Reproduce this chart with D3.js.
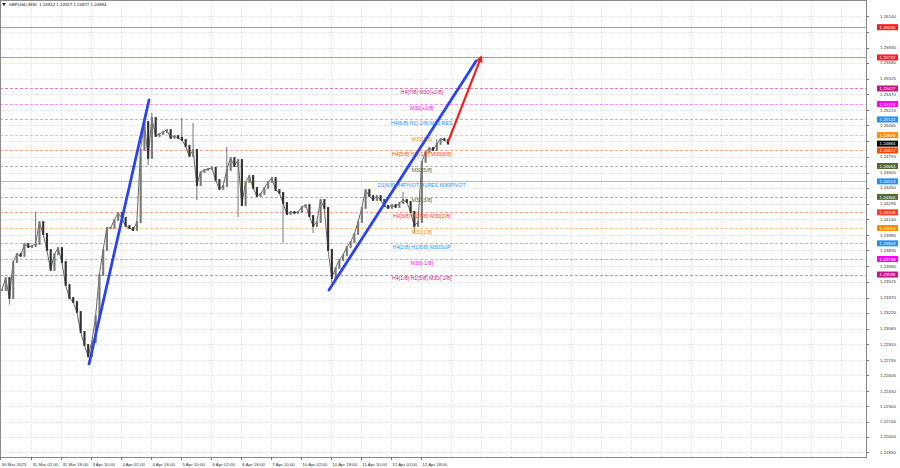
<!DOCTYPE html>
<html><head><meta charset="utf-8">
<script src="https://cdn.jsdelivr.net/npm/d3@7/dist/d3.min.js"></script>
<style>
body{margin:0;background:#fff}
svg{display:block}
text{font-family:"Liberation Sans",Arial,sans-serif}
</style>
</head><body>
<svg id="c" width="900" height="468"></svg>
<script>
// ---------------- DATA ----------------
const chartTitle = "GBPUSD,M30  1.24912 1.24927 1.24877 1.24884";

// 2-hour closes (each step = 4 M30 bars)
const closes = [
1.23444,1.23562,1.23365,1.23720,1.23798,1.23779,1.23897,1.23867,1.23877,1.23897,
1.24113,1.23995,1.23838,1.23641,1.23798,1.23857,1.23720,1.23493,1.23365,1.23326,
1.23228,1.23031,1.22903,1.22795,1.22932,1.23188,1.23592,1.23838,1.24054,1.24054,
1.24133,1.24202,1.24153,1.24074,1.24054,1.24034,1.24113,1.24822,1.25097,1.24743,
1.25137,1.24959,1.24979,1.24999,1.25018,1.24940,1.24959,1.24940,1.24920,1.24861,
1.24763,1.24822,1.24477,1.24605,1.24625,1.24635,1.24645,1.24526,1.24438,1.24467,
1.24625,1.24743,1.24664,1.24723,1.24280,1.24507,1.24566,1.24448,1.24369,1.24389,
1.24448,1.24507,1.24546,1.24428,1.24399,1.24300,1.24192,1.24212,1.24202,1.24212,
1.24261,1.24280,1.24172,1.24074,1.24113,1.24330,1.24251,1.23838,1.23562,1.23661,
1.23739,1.23788,1.23867,1.23916,1.23995,1.24113,1.24251,1.24428,1.24369,1.24330,
1.24369,1.24330,1.24271,1.24251,1.24280,1.24261,1.24300,1.24330,1.24310,1.24212,
1.24074,1.24113,1.24704,1.24802,1.24841,1.24822,1.24881,1.24930,1.24920,1.24884
];
const wickHighs = {9:1.24212, 40:1.25186, 48:1.25137, 51:1.25088, 60:1.24851, 107:1.24408, 116:1.24930};
const wickLows  = {2:1.23300, 23:1.22775, 39:1.24674, 52:1.24330, 63:1.24163, 75:1.23907, 83:1.24005, 88:1.23513, 110:1.24005};

const timeLabels = ["30 Mar 2023","31 Mar 02:00","31 Mar 18:00","3 Apr 10:00","4 Apr 02:00","4 Apr 18:00",
  "5 Apr 10:00","6 Apr 02:00","6 Apr 18:00","7 Apr 10:00","10 Apr 02:00","10 Apr 18:00","11 Apr 10:00",
  "12 Apr 02:00","12 Apr 18:00"];
const timeBars = [0,33,65,97,129,161,193,225,257,289,321,353,385,417,449];

const priceTicks = [1.26140,1.25985,1.25830,1.25680,1.25525,1.25370,1.25215,1.25065,1.24910,1.24755,
  1.24600,1.24450,1.24295,1.24140,1.23985,1.23835,1.23680,1.23525,1.23370,1.23220,1.23065,1.22910,
  1.22755,1.22605,1.22450,1.22300,1.22150,1.22000,1.21850];

const levelPrices = [1.26030,1.25732,1.25427,1.25274,1.25122,1.24968,1.24817,1.24664,1.24513,1.24360,
  1.24208,1.24054,1.23903,1.23749,1.23596];
const levelTexts = ["","","H4[7/8] M30[+2/8]","M30[+1/8]","H4[6/8] H1[-2/8] M30 RES","M30[7/8]",
  "H4[5/8] H1[-1/8] M30[6/8]","M30[5/8]","D1[6/8] H4PIVOT H1RES M30PIVOT","M30[3/8]",
  "H4[3/8] H1[7/8] M30[2/8]","M30[1/8]","H4[2/8] H1[6/8] M30SUP","M30[-1/8]","H4[1/8] H1[5/8] M30[-2/8]"];
const currentPrice = 1.24884;

// drawn objects (bar index, price)
const trendLines = [
  {b0:95, p0:1.22716, b1:159, p1:1.25314},
  {b0:351, p0:1.23444, b1:508, p1:1.25697}
];
const forecastArrow = {b0:478, p0:1.24900, b1:513, p1:1.25727};

// ---------------- STYLE ----------------
const levelColors = ["#ff1a1a","#ff1a1a","#c71585","#ff00ff","#1e90ff","#ff8c00","#ff4500","#556b2f",
  "#1e90ff","#556b2f","#ff3a1a","#ff8c00","#1e90ff","#ff00ff","#c71585"];
const levelLineColors = ["#f27a7a","#f27a7a","#e07fbe","#ff8cff","#8ec6ff","#ffc27f","#ffa07f","#a9b596",
  "#8ec6ff","#a9b596","#ff9c8c","#ffc27f","#8ec6ff","#ff8cff","#e07fbe"];
const levelDash = ["","","3,2","3,2","3,2","3,2","3,2","3,2","","3,2","3,2","3,2","3,2","3,2","3,2"];

const plotR = 866, plotB = 457;
const x = d3.scaleLinear().domain([0, 924]).range([0, plotR]);
const y = d3.scaleLinear().domain([1.2185, 1.2614]).range([452, 16]);
const svg = d3.select("#c");
const fmt = d3.format(".5f");

svg.append("rect").attr("width",900).attr("height",468).attr("fill","#fff");

// grid
const grid = svg.append("g");
grid.selectAll("line.h").data(priceTicks).join("line").attr("class","h")
  .attr("x1",0).attr("x2",plotR)
  .attr("y1",d=>Math.round(y(d))+0.5).attr("y2",d=>Math.round(y(d))+0.5)
  .attr("stroke","#e2e2e2").attr("stroke-dasharray","1,1");
const gridBars = timeBars.slice(1).concat(d3.range(timeBars[timeBars.length-1]+32, 924, 32));
grid.selectAll("line.v").data(gridBars).join("line").attr("class","v")
  .attr("x1",d=>Math.round(x(d))+0.5).attr("x2",d=>Math.round(x(d))+0.5)
  .attr("y1",0).attr("y2",plotB)
  .attr("stroke","#e2e2e2").attr("stroke-dasharray","1,1");

// level lines
const lv = svg.append("g");
lv.selectAll("line").data(levelPrices).join("line")
  .attr("x1",0).attr("x2",plotR)
  .attr("y1",d=>Math.round(y(d))+0.5).attr("y2",d=>Math.round(y(d))+0.5)
  .attr("stroke",(d,i)=>levelLineColors[i])
  .attr("stroke-dasharray",(d,i)=>levelDash[i]);

// candles
const candles = closes.map((c,i)=>({i, o: i ? closes[i-1] : c, c, h: wickHighs[i], l: wickLows[i]}));
const cg = svg.append("g");
cg.append("path").datum(candles)
  .attr("d", d3.line().x(d=>x(4*d.i+2)).y(d=>y(d.c)))
  .attr("fill","none").attr("stroke","#555").attr("stroke-width",0.9);
cg.selectAll("line.w").data(candles.filter(d=>d.h!==undefined || d.l!==undefined)).join("line").attr("class","w")
  .attr("x1",d=>x(4*d.i+2)).attr("x2",d=>x(4*d.i+2))
  .attr("y1",d=>y(d.h!==undefined ? d.h : Math.max(d.o,d.c)))
  .attr("y2",d=>y(d.l!==undefined ? d.l : Math.min(d.o,d.c)))
  .attr("stroke","#666").attr("stroke-width",0.9);
cg.selectAll("rect").data(candles).join("rect")
  .attr("x",d=>x(4*d.i)+0.9)
  .attr("width",d=>x(4*d.i+4)-x(4*d.i)-1.6)
  .attr("y",d=>y(Math.max(d.o,d.c))-0.9)
  .attr("height",d=>Math.abs(y(d.o)-y(d.c))+1.8)
  .attr("fill",d=>d.c>=d.o ? "#7a7a7a" : "#333");

// level chart texts
const labelBar = 450;
svg.append("g").selectAll("text").data(levelPrices).join("text")
  .attr("x",x(labelBar)).attr("y",d=>y(d)+5.5)
  .attr("text-anchor","middle").attr("font-size",5.3)
  .attr("fill",(d,i)=>levelColors[i])
  .text((d,i)=>levelTexts[i]);

// trend lines
svg.append("g").selectAll("line").data(trendLines).join("line")
  .attr("x1",d=>x(d.b0)).attr("y1",d=>y(d.p0)).attr("x2",d=>x(d.b1)).attr("y2",d=>y(d.p1))
  .attr("stroke","#2a45ee").attr("stroke-width",2.8).attr("stroke-linecap","round");

// arrow
const defs = svg.append("defs");
defs.append("marker").attr("id","ah").attr("viewBox","0 0 10 10").attr("refX",6).attr("refY",5)
  .attr("markerWidth",3.2).attr("markerHeight",3.2).attr("orient","auto")
  .append("path").attr("d","M0,0 L10,5 L0,10 Z").attr("fill","#f02020");
svg.append("line")
  .attr("x1",x(forecastArrow.b0)).attr("y1",y(forecastArrow.p0))
  .attr("x2",x(forecastArrow.b1)).attr("y2",y(forecastArrow.p1))
  .attr("stroke","#f02020").attr("stroke-width",2.2).attr("marker-end","url(#ah)");

// frame
svg.append("rect").attr("x",0.5).attr("y",0.5).attr("width",plotR).attr("height",plotB)
  .attr("fill","none").attr("stroke","#8a8a8a");

// level boxes (price tags); tick labels hidden underneath them are not shown
const boxPrices = levelPrices.concat([currentPrice]);
const boxColors = levelColors.concat(["#000"]);
const visibleTicks = priceTicks.filter(t => boxPrices.every(b => Math.abs(y(b) - y(t)) > 4.6));

// right axis
const ra = svg.append("g");
ra.selectAll("line").data(priceTicks).join("line")
  .attr("x1",plotR).attr("x2",plotR+3)
  .attr("y1",d=>Math.round(y(d))+0.5).attr("y2",d=>Math.round(y(d))+0.5).attr("stroke","#777");
ra.selectAll("text").data(visibleTicks).join("text")
  .attr("x",880).attr("y",d=>y(d)+1.6).attr("font-size",4.4).attr("fill","#333")
  .text(d=>fmt(d));

const bx = svg.append("g");
bx.selectAll("rect").data(boxPrices).join("rect")
  .attr("x",877).attr("width",21).attr("y",d=>y(d)-3).attr("height",6)
  .attr("fill",(d,i)=>boxColors[i]);
bx.selectAll("text").data(boxPrices).join("text")
  .attr("x",879.5).attr("y",d=>y(d)+1.6).attr("font-size",4.4).attr("fill","#fff")
  .text(d=>fmt(d));

// bottom axis
const ba = svg.append("g");
ba.selectAll("line").data(timeBars).join("line")
  .attr("x1",d=>Math.round(x(d))+0.5).attr("x2",d=>Math.round(x(d))+0.5)
  .attr("y1",plotB).attr("y2",plotB+3).attr("stroke","#777");
ba.selectAll("text").data(timeBars).join("text")
  .attr("x",d=>x(d)+1.5).attr("y",465.5).attr("font-size",4.4).attr("fill","#333")
  .text((d,i)=>timeLabels[i]);

// title
svg.append("path").attr("d","M2,3 L6,3 L4,6 Z").attr("fill","#222");
svg.append("text").attr("x",8.5).attr("y",6.3).attr("font-size",4.4).attr("fill","#111")
  .attr("xml:space","preserve").text(chartTitle);
</script>
</body></html>
